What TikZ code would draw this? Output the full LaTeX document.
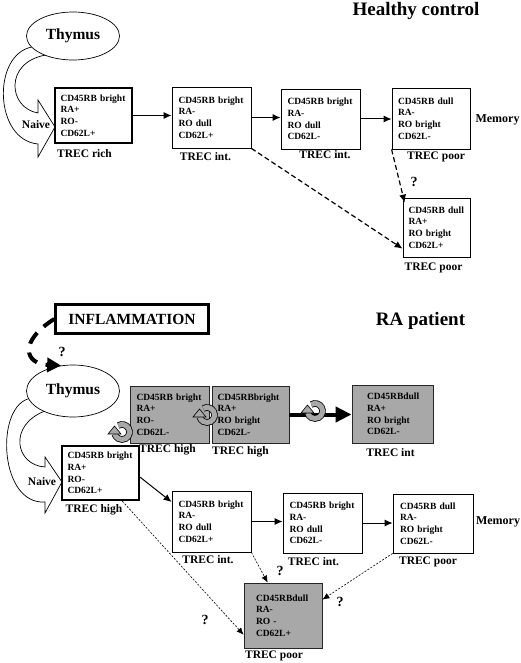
\documentclass[tikz,border=0pt]{standalone}
\usepackage{fontspec}
\setmainfont{Liberation Serif}
\usepackage{tikz}
\usetikzlibrary{shapes.geometric,arrows.meta,positioning,calc}

\definecolor{cellgray}{gray}{0.66}

\tikzset{
    % grey turning arrow drawn over the activated cells
    turn/.pic={
        \draw[line width=6.6pt] (120:7.5pt) arc[start angle=120, end angle=-165, radius=7.5pt];
        \draw[line width=5pt, cellgray] (120:7.5pt) arc[start angle=120, end angle=-165, radius=7.5pt];
        \filldraw[fill=cellgray, line width=0.6pt] (-14pt,-2pt) -- (-1pt,-2pt) -- (-7.5pt,6pt) -- cycle;
    }
}

\begin{document}
\begin{tikzpicture}[x=1pt, y=-1pt,
    cell/.style={draw, line width=0.8pt, text width=66pt, inner xsep=3pt, align=left,
                 font=\bfseries\fontsize{9.5}{11.8}\selectfont},
    thickcell/.style={cell, line width=2.2pt},
    greycell/.style={cell, fill=cellgray, draw=black!85},
    treclabel/.style={font=\bfseries\fontsize{11.5}{13}\selectfont},
    heading/.style={font=\bfseries\fontsize{19}{22}\selectfont, anchor=base},
    thymus/.style={draw, ellipse, line width=0.7pt, minimum width=93pt, minimum height=48pt,
                   font=\bfseries\fontsize{15.5}{18}\selectfont},
    query/.style={font=\bfseries\fontsize{14}{16}\selectfont},
    link/.style={line width=1pt, -{Latex[length=8pt,width=7pt]}},
    guess/.style={line width=1.2pt, dash pattern=on 5pt off 3pt, -{Latex[length=8pt,width=7pt]}},
    faint/.style={line width=0.6pt, dash pattern=on 2pt off 1.5pt, -{Latex[length=7pt,width=6pt]}},
    gate/.style={draw, line width=0.7pt, fill=white}
]
    \useasboundingbox (0,0) rectangle (520,663);

    % Healthy control
    \node[heading] (hc) at (416,16) {Healthy control};

    \draw[gate] (73,36) ++(165:43) .. controls (-8,55) and (-6,140) .. (38,144) -- (38,157) -- (55,127)
        -- (38,100) -- (38,113) .. controls (8,108) and (4,62) .. (46,55);
    \node[thymus, fill=white] (thy1) at (73,36) {Thymus};
    \node[font=\bfseries\fontsize{11.5}{13}\selectfont] (nv1) at (36,125) {Naive};

    \node[thickcell, minimum width=77pt, minimum height=55pt] (h1) at (93.5,115.5) {CD45RB bright\\RA+\\RO-\\CD62L+};
    \node[cell, minimum width=79pt, minimum height=61pt] (h2) at (211.5,117.5) {CD45RB bright\\RA-\\RO dull\\CD62L+};
    \node[cell, minimum width=79pt, minimum height=60pt] (h3) at (320.5,119) {CD45RB bright\\RA-\\RO dull\\CD62L-};
    \node[cell, minimum width=78pt, minimum height=61pt] (h4) at (431,118.5) {CD45RB dull\\RA-\\RO bright\\CD62L-};
    \node[cell, text width=56pt, minimum width=67pt, minimum height=59pt] (h5) at (436.5,227.5) {CD45RB dull\\RA+\\RO bright\\CD62L+};

    \node[treclabel] (lh1) at (84.5,154) {TREC rich};
    \node[treclabel] (lh2) at (205.5,157) {TREC int.};
    \node[treclabel] (lh3) at (325,155) {TREC int.};
    \node[treclabel] (lh4) at (436,157) {TREC poor};
    \node[treclabel] (lh5) at (433.5,268) {TREC poor};
    \node[font=\bfseries\fontsize{12}{14}\selectfont] (mem1) at (497.5,120) {Memory};

    \draw[link] (h1.east) -- (h1.east -| h2.west);
    \draw[link] (h2.east) -- (h2.east -| h3.west);
    \draw[link] (h3.east) -- (h3.east -| h4.west);
    \draw[guess] (h2.south east) -- (h5.212);
    \draw[guess] (h4.south west) -- ([xshift=2pt,yshift=-5pt]h5.north west);
    \node[query] (q1) at (414,182) {?};

    % RA patient
    \node[heading] (rap) at (420.5,325) {RA patient};

    \node[draw, line width=2.5pt, minimum width=153pt, minimum height=29pt,
          font=\bfseries\fontsize{15.5}{18}\selectfont] (infl) at (132,319) {INFLAMMATION};

    \draw[gate] (73,391) ++(170:46) .. controls (-5,410) and (0,505) .. (45,502) -- (45,513) -- (62,482)
        -- (45,457) -- (45,467) .. controls (15,465) and (8,425) .. (45,411);
    \node[thymus, fill=white, minimum height=52pt] (thy2) at (73,391) {Thymus};
    \node[font=\bfseries\fontsize{11.5}{13}\selectfont] (nv2) at (42,482) {Naive};

    \draw[line width=4pt, dash pattern=on 13pt off 9pt, -{Triangle[length=14pt,width=14pt]}]
        (infl.west) .. controls (18,342) and (25,364) .. (thy2.115);
    \node[query] (q2) at (62,352) {?};

    \node[greycell, minimum width=79pt, minimum height=57pt] (g1) at (169.5,414.5) {CD45RB bright\\RA+\\RO-\\CD62L-};
    \node[greycell, minimum width=77pt, minimum height=57pt] (g2) at (250.5,414.5) {CD45RBbright\\RA+\\RO bright\\CD62L-};
    \node[greycell, text width=51pt, minimum width=81pt, minimum height=58pt] (g3) at (392.5,414) {CD45RBdull\\RA+\\RO bright\\CD62L-};

    \node[thickcell, minimum width=77pt, minimum height=54pt] (r0) at (100.5,473) {CD45RB bright\\RA+\\RO-\\CD62L+};
    \node[cell, minimum width=79pt, minimum height=61pt] (r1) at (211.5,521.5) {CD45RB bright\\RA-\\RO dull\\CD62L+};
    \node[cell, minimum width=79pt, minimum height=60pt] (r2) at (322.5,523) {CD45RB bright\\RA-\\RO dull\\CD62L-};
    \node[cell, minimum width=80pt, minimum height=59pt] (r3) at (433,523.5) {CD45RB dull\\RA-\\RO bright\\CD62L-};
    \node[greycell, text width=54pt, minimum width=78pt, minimum height=65pt] (g4) at (283,615.5) {CD45RBdull\\RA-\\RO -\\CD62L+};

    \node[treclabel] (lg1) at (167.5,450) {TREC high};
    \node[treclabel] (lg2) at (240.5,452) {TREC high};
    \node[treclabel] (lg3) at (390.5,453) {TREC int};
    \node[treclabel] (lr0) at (94,510) {TREC high};
    \node[treclabel] (lr1) at (208,560) {TREC int.};
    \node[treclabel] (lr2) at (313.5,562) {TREC int.};
    \node[treclabel] (lr3) at (428,562) {TREC poor};
    \node[treclabel] (lg4) at (274,656) {TREC poor};
    \node[font=\bfseries\fontsize{12}{14}\selectfont] (mem2) at (498,522) {Memory};

    \draw[line width=4pt, -{Triangle[length=16pt,width=15pt]}] (g2.east) -- (g2.east -| g3.west);
    \draw[link] (r0.-6) -- (r1.154);
    \draw[link] (r1.east) -- (r1.east -| r2.west);
    \draw[link] (r2.east) -- (r2.east -| r3.west);
    \draw[faint] ($(r0.south)!0.55!(r0.south east)$) -- (g4.206);
    \draw[faint] (r1.south east) -- (g4.115);
    \draw[faint] (r3.south west) -- (g4.22);
    \node[query] (q3) at (280,571) {?};
    \node[query] (q4) at (205,620) {?};
    \node[query] (q5) at (340,602) {?};

    \pic at (122,432) {turn};
    \pic at (207,415) {turn};
    \pic at (315,411) {turn};
\end{tikzpicture}
\end{document}
